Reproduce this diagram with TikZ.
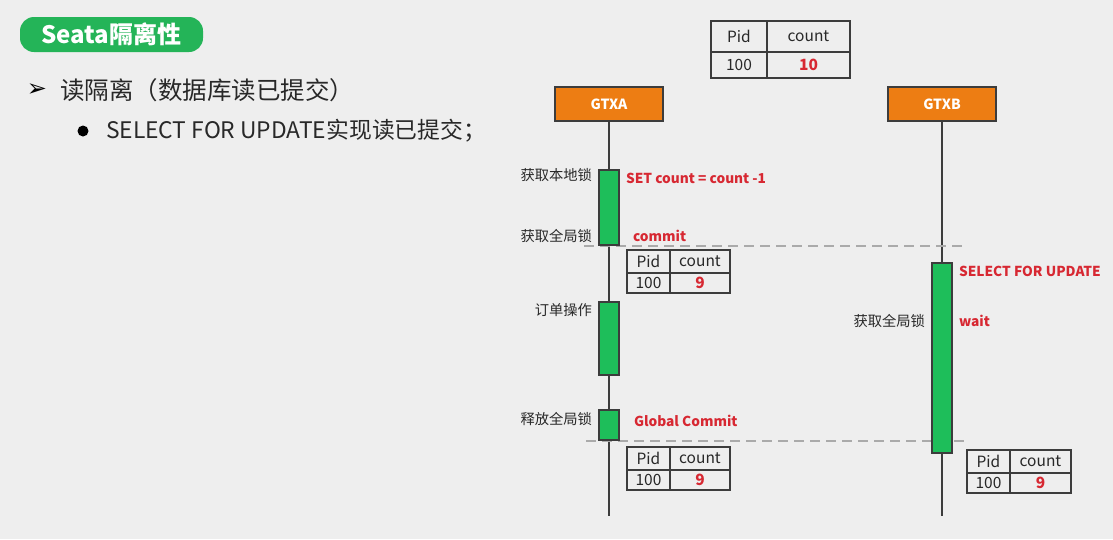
\documentclass[tikz,border=0pt]{standalone}
\usepackage{fontspec}
\setmainfont{Noto Sans CJK SC}
\newfontfamily\symfont{DejaVu Sans}
\definecolor{bg}{RGB}{238,238,238}
\definecolor{pill}{RGB}{36,180,88}
\definecolor{act}{RGB}{30,190,90}
\definecolor{orng}{RGB}{237,125,19}
\definecolor{redt}{RGB}{215,40,50}
\definecolor{dark}{RGB}{60,60,60}
\definecolor{txt}{RGB}{40,40,40}
\definecolor{dash}{RGB}{170,170,170}
\begin{document}
\begin{tikzpicture}[x=1pt,y=-1pt,
  every node/.style={inner sep=0pt, outer sep=0pt},
  cell/.style={draw=dark, line width=1.8pt, anchor=north west, text=txt, font=\fontsize{15.5}{15.5}\selectfont},
  redcell/.style={cell, text=redt, font=\bfseries\fontsize{15.5}{15.5}\selectfont},
  head/.style={draw=dark, line width=1.2pt, fill=orng, text=white, font=\bfseries\fontsize{14}{14}\selectfont, minimum width=108, minimum height=34, anchor=north west},
  actbox/.style={draw=dark, line width=1.2pt, fill=act, minimum width=20, anchor=north west},
  lbl/.style={text=txt, font=\fontsize{14.3}{14.3}\selectfont},
  red/.style={text=redt, font=\bfseries\fontsize{13.7}{13.7}\selectfont, anchor=west},
  life/.style={draw=dark, line width=1.4pt},
  sep/.style={draw=dash, line width=1.4pt, dash pattern=on 10pt off 6pt}]
\fill[bg] (0,0) rectangle (1113,539);
\useasboundingbox (0,0) rectangle (1113,539);

% title
\node[fill=pill, rounded corners=14pt, minimum width=183, minimum height=35, anchor=north west, text=white, font=\bfseries\fontsize{24}{24}\selectfont] (title) at (20,17) {Seata隔离性};

% bullets
\node[anchor=west, text=black, font=\symfont\bfseries\fontsize{24}{24}\selectfont] (arrow) at (27,90) {➢};
\node[anchor=west, text=txt, font=\fontsize{24.5}{24.5}\selectfont] (b1) at (60,90) {读隔离（数据库读已提交）};
\node[circle, fill=black, minimum size=11] (dot) at (83,131) {};
\node[anchor=west, text=txt, font=\fontsize{22.8}{22.8}\selectfont] (b2) at (106,131) {SELECT FOR UPDATE实现读已提交；};

% top table
\node[cell, minimum width=56, minimum height=31] (t1a) at (711,21) {Pid};
\node[cell, minimum width=83, minimum height=31] (t1b) at (767,21) {count};
\node[cell, minimum width=56, minimum height=26] (t1c) at (711,52) {100};
\node[redcell, minimum width=83, minimum height=26] (t1d) at (767,52) {10};

% heads
\node[head] (gA) at (555,87) {GTXA};
\node[head] (gB) at (888,87) {GTXB};
\coordinate (endA) at (608,516);
\coordinate (endB) at (941,516);
\draw[life] (gA.south) -- (gA.south |- endA);
\draw[life] (gB.south) -- (gB.south |- endB);

% separators
\coordinate (s1a) at (584,246); \coordinate (s1b) at (964,246);
\coordinate (s2a) at (586,441); \coordinate (s2b) at (966,441);
\draw[sep] (s1a) -- (s1b);
\draw[sep] (s2a) -- (s2b);

% A activations
\node[actbox, minimum height=75] (a1) at (599,170) {};
\node[actbox, minimum height=73] (a2) at (599,302) {};
\node[actbox, minimum height=30] (a3) at (599,410) {};
\node[lbl, anchor=east] (l1) at (592,175) {获取本地锁};
\node[lbl, anchor=east] (l2) at (592,236) {获取全局锁};
\node[lbl, anchor=east] (l3) at (592,310) {订单操作};
\node[lbl, anchor=east] (l4) at (592,419) {释放全局锁};
\node[red] (r1) at (626,178) {SET count = count -1};
\node[red] (r2) at (633,236) {commit};
\node[red] (r3) at (634,421) {Global Commit};

% B activation
\node[actbox, minimum height=190] (b) at (932,263) {};
\node[lbl, anchor=east] (l5) at (925,321) {获取全局锁};
\node[red] (r4) at (959,271) {SELECT FOR UPDATE};
\node[red] (r5) at (959,321) {wait};

% table 2
\node[cell, minimum width=43, minimum height=23] (t2a) at (627,250) {Pid};
\node[cell, minimum width=60, minimum height=23] (t2b) at (670,250) {count\hspace{10pt}};
\node[cell, minimum width=43, minimum height=20] (t2c) at (627,273) {100};
\node[redcell, minimum width=60, minimum height=20] (t2d) at (670,273) {9\hspace{10pt}};

% table 3
\node[cell, minimum width=43, minimum height=23] (t3a) at (627,447) {Pid};
\node[cell, minimum width=60, minimum height=23] (t3b) at (670,447) {count\hspace{10pt}};
\node[cell, minimum width=43, minimum height=20] (t3c) at (627,470) {100};
\node[redcell, minimum width=60, minimum height=20] (t3d) at (670,470) {9\hspace{10pt}};

% table 4
\node[cell, minimum width=43, minimum height=23] (t4a) at (967,450) {Pid};
\node[cell, minimum width=61, minimum height=23] (t4b) at (1010,450) {count\hspace{10pt}};
\node[cell, minimum width=43, minimum height=20] (t4c) at (967,473) {100};
\node[redcell, minimum width=61, minimum height=20] (t4d) at (1010,473) {9\hspace{10pt}};
\end{tikzpicture}
\end{document}
